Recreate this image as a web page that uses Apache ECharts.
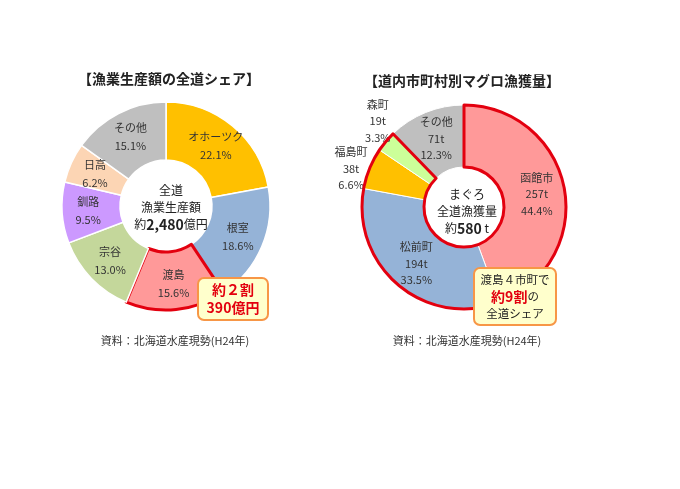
<!DOCTYPE html>
<html lang="ja">
<head>
  <meta charset="UTF-8">
  <title>漁業生産額・マグロ漁獲量</title>
  <style>
    * { box-sizing: border-box; padding: 0; margin: 0; }
    html, body, #main { width: 100%; height: 100%; background: #fff; }
  </style>
  <script src="https://cdn.jsdelivr.net/npm/echarts@6/dist/echarts.min.js"></script>
</head>
<body>
  <div id="main"></div>
  <script>
    // 左：漁業生産額の全道シェア (%)
    var leftNames = ['オホーツク', '根室', '渡島', '宗谷', '釧路', '日高', 'その他'];
    var leftShares = [22.1, 18.6, 15.6, 13.0, 9.5, 6.2, 15.1];
    var leftColors = ['#FFC000', '#95B3D7', '#FF9999', '#C4D79B', '#CC99FF', '#FCD5B4', '#BFBFBF'];

    // 右：道内市町村別マグロ漁獲量 (t, %)
    var rightNames = ['函館市', '松前町', '福島町', '森町', 'その他'];
    var rightTons = [257, 194, 38, 19, 71];
    var rightShares = [44.4, 33.5, 6.6, 3.3, 12.3];
    var rightColors = ['#FF9999', '#95B3D7', '#FFC000', '#CCFF99', '#BFBFBF'];
    var oshimaCount = 4; // 渡島の市町

    var font = '"Noto Sans CJK JP", "Noto Sans", sans-serif';
    var red = '#E3000F';

    var leftData = leftNames.map(function (n, i) {
      var d = { name: n, value: leftShares[i], itemStyle: { color: leftColors[i] } };
      if (n === '渡島') {
        d.itemStyle.borderColor = red;
        d.itemStyle.borderWidth = 3;
      }
      return d;
    });

    var rightData = rightNames.map(function (n, i) {
      var d = { name: n, value: rightTons[i], itemStyle: { color: rightColors[i] } };
      if (n === '福島町' || n === '森町') {
        d.label = { position: 'outside', color: '#333' };
      }
      return d;
    });

    var oshimaSum = rightTons.slice(0, oshimaCount).reduce(function (a, b) { return a + b; }, 0);
    var restSum = rightTons.slice(oshimaCount).reduce(function (a, b) { return a + b; }, 0);

    var myChart = echarts.init(document.getElementById('main'));
    var option = {
      backgroundColor: '#fff',
      textStyle: { fontFamily: font },
      title: [
        { text: '【漁業生産額の全道シェア】', left: 164, top: 67, textAlign: 'center',
          textStyle: { fontSize: 14, fontWeight: 'bold', color: '#222', fontFamily: font } },
        { text: '【道内市町村別マグロ漁獲量】', left: 457, top: 69, textAlign: 'center',
          textStyle: { fontSize: 14, fontWeight: 'bold', color: '#222', fontFamily: font } },
        { text: '資料：北海道水産現勢(H24年)', left: 170, top: 330, textAlign: 'center',
          textStyle: { fontSize: 11, fontWeight: 'normal', color: '#333', fontFamily: font } },
        { text: '資料：北海道水産現勢(H24年)', left: 462, top: 330, textAlign: 'center',
          textStyle: { fontSize: 11, fontWeight: 'normal', color: '#333', fontFamily: font } },
        // 中心テキスト
        { text: '全道\n漁業生産額\n{s|約}{b|2,480}{s|億円}', left: 166, top: 177, textAlign: 'center',
          textStyle: { fontSize: 12, fontWeight: 'normal', color: '#222', lineHeight: 17, fontFamily: font,
            rich: { s: { fontSize: 12, color: '#222', fontFamily: font },
                    b: { fontSize: 14, fontWeight: 'bold', color: '#222', fontFamily: font } } } },
        { text: 'まぐろ\n全道漁獲量\n{s|約}{b|580}{s| t}', left: 462, top: 181, textAlign: 'center',
          textStyle: { fontSize: 12, fontWeight: 'normal', color: '#222', lineHeight: 17, fontFamily: font,
            rich: { s: { fontSize: 12, color: '#222', fontFamily: font },
                    b: { fontSize: 14, fontWeight: 'bold', color: '#222', fontFamily: font } } } },
        // 吹き出し
        { text: '約２割\n390億円', left: 224, top: 278, textAlign: 'center',
          backgroundColor: '#FFFFCC', borderColor: '#F79646', borderWidth: 2, borderRadius: 6,
          padding: [3, 9],
          textStyle: { fontSize: 14, fontWeight: 'bold', color: red, lineHeight: 18, fontFamily: font } },
        { text: '渡島４市町で\n{r|約9割}の\n全道シェア', left: 508, top: 268, textAlign: 'center',
          backgroundColor: '#FFFFCC', borderColor: '#F79646', borderWidth: 2, borderRadius: 6,
          padding: [3, 7],
          textStyle: { fontSize: 11.5, fontWeight: 'normal', color: '#222', lineHeight: 17, fontFamily: font,
            rich: { r: { fontSize: 14, fontWeight: 'bold', color: red, fontFamily: font } } } }
      ],
      series: [
        {
          type: 'pie',
          center: [166, 206],
          radius: [46, 104],
          startAngle: 90,
          clockwise: true,
          silent: true,
          itemStyle: { borderColor: '#fff', borderWidth: 1.5 },
          label: {
            position: 'inside',
            color: '#333',
            fontSize: 11,
            lineHeight: 18,
            fontFamily: font,
            formatter: function (p) { return p.name + '\n' + leftShares[p.dataIndex].toFixed(1) + '%'; }
          },
          labelLine: { show: false },
          data: leftData
        },
        {
          type: 'pie',
          center: [464, 207],
          radius: [40, 102],
          startAngle: 90,
          clockwise: true,
          silent: true,
          itemStyle: { borderColor: '#fff', borderWidth: 1 },
          label: {
            position: 'inside',
            color: '#333',
            fontSize: 11,
            lineHeight: 16.5,
            fontFamily: font,
            formatter: function (p) {
              return p.name + '\n' + rightTons[p.dataIndex] + 't\n' + rightShares[p.dataIndex].toFixed(1) + '%';
            }
          },
          labelLine: { show: false, length: 4, length2: 4 },
          labelLayout: function (p) {
            if (p.dataIndex === 2) return { align: 'center', dx: -4, dy: -22 };
            if (p.dataIndex === 3) return { align: 'center', dx: 4, dy: -18 };
            return {};
          },
          data: rightData
        },
        {
          // 渡島4市町の外枠
          type: 'pie',
          center: [464, 207],
          radius: [40, 102],
          startAngle: 90,
          clockwise: true,
          silent: true,
          z: 5,
          label: { show: false },
          labelLine: { show: false },
          data: [
            { name: '渡島', value: oshimaSum, itemStyle: { color: 'rgba(0,0,0,0)', borderColor: red, borderWidth: 3 } },
            { name: 'rest', value: restSum, itemStyle: { color: 'rgba(0,0,0,0)', borderWidth: 0 } }
          ]
        }
      ]
    };
    myChart.setOption(option);
    window.onresize = myChart.resize;
  </script>
</body>
</html>
